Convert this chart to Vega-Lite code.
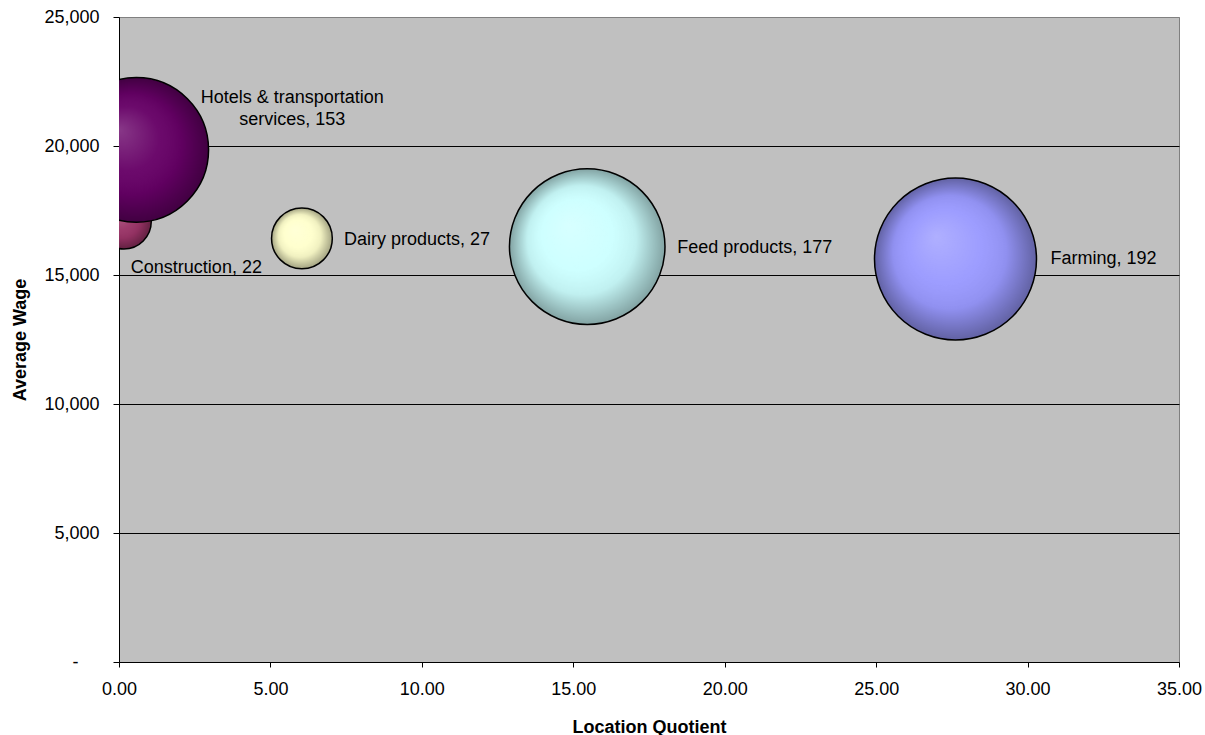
{
  "$schema": "https://vega.github.io/schema/vega-lite/v6.json",
  "width": 1060,
  "height": 645,
  "autosize": {"type": "none"},
  "padding": {"left": 119, "top": 17, "right": 26, "bottom": 73},
  "background": "white",
  "config": {
    "font": "Liberation Sans",
    "view": {"fill": "#C0C0C0", "stroke": "#808080", "strokeWidth": 1}
  },
  "data": {
    "values": [
      {"industry": "Construction", "quotient": 0.16, "wage": 17070, "value": 22},
      {"industry": "Hotels & transportation services", "quotient": 0.57, "wage": 19850, "value": 153},
      {"industry": "Dairy products", "quotient": 6.04, "wage": 16420, "value": 27},
      {"industry": "Feed products", "quotient": 15.46, "wage": 16100, "value": 177},
      {"industry": "Farming", "quotient": 27.62, "wage": 15620, "value": 192}
    ]
  },
  "transform": [
    {"calculate": "replace(datum.industry, 'transportation ', 'transportation\\n') + ', ' + datum.value", "as": "label"}
  ],
  "encoding": {
    "x": {
      "field": "quotient",
      "type": "quantitative",
      "title": "Location Quotient",
      "scale": {"domain": [0, 35], "nice": false},
      "axis": {
        "values": [0, 5, 10, 15, 20, 25, 30, 35],
        "format": ".2f",
        "grid": false,
        "labelFlush": false,
        "domainColor": "black",
        "tickColor": "black",
        "tickSize": 5,
        "labelPadding": 13,
        "labelFontSize": 18,
        "labelColor": "black",
        "titleFontSize": 18,
        "titleFontWeight": "bold",
        "titleColor": "black",
        "titlePadding": 20
      }
    },
    "y": {
      "field": "wage",
      "type": "quantitative",
      "title": "Average Wage",
      "scale": {"domain": [0, 25000], "nice": false},
      "axis": {
        "values": [0, 5000, 10000, 15000, 20000, 25000],
        "labelExpr": "datum.value === 0 ? '-' : format(datum.value, ',')",
        "grid": true,
        "gridColor": {"condition": {"test": "datum.value === 25000 || datum.value === 0", "value": "#808080"}, "value": "black"},
        "gridWidth": 1,
        "labelFlush": false,
        "domainColor": "black",
        "tickColor": "black",
        "tickSize": 6,
        "labelPadding": {"condition": {"test": "datum.value === 0", "value": 35}, "value": 14},
        "labelFontSize": 18,
        "labelColor": "black",
        "titleFontSize": 18,
        "titleFontWeight": "bold",
        "titleColor": "black",
        "titlePadding": 14
      }
    }
  },
  "layer": [
    {
      "transform": [{"filter": "datum.industry === 'Construction'"}],
      "mark": {"type": "circle", "clip": true, "opacity": 1, "strokeWidth": 0},
      "encoding": {
        "color": {
          "field": "industry",
          "type": "nominal",
          "scale": {
            "domain": ["Construction", "Hotels & transportation services", "Dairy products", "Feed products", "Farming"],
            "range": ["#993366", "#660066", "#FFFFCC", "#CCFFFF", "#9999FF"]
          },
          "legend": null
        },
        "size": {"field": "value", "type": "quantitative", "scale": {"domain": [0, 192], "range": [0, 26244]}, "legend": null}
      }
    },
    {
      "transform": [{"filter": "datum.industry === 'Construction'"}],
      "mark": {
        "type": "circle",
        "clip": true,
        "opacity": 1,
        "stroke": "black",
        "strokeWidth": 1.5,
        "fill": {
          "gradient": "radial",
          "x1": 0.38, "y1": 0.36, "r1": 0,
          "x2": 0.5, "y2": 0.5, "r2": 0.5,
          "stops": [
            {"offset": 0, "color": "rgba(255,255,255,0.22)"},
            {"offset": 0.45, "color": "rgba(255,255,255,0.04)"},
            {"offset": 0.7, "color": "rgba(0,0,0,0.06)"},
            {"offset": 1, "color": "rgba(0,0,0,0.36)"}
          ]
        }
      },
      "encoding": {
        "size": {"field": "value", "type": "quantitative", "scale": {"domain": [0, 192], "range": [0, 26244]}, "legend": null}
      }
    },
    {
      "transform": [{"filter": "datum.industry !== 'Construction'"}],
      "mark": {"type": "circle", "clip": true, "opacity": 1, "strokeWidth": 0},
      "encoding": {
        "color": {"field": "industry", "type": "nominal", "legend": null},
        "size": {"field": "value", "type": "quantitative", "legend": null}
      }
    },
    {
      "transform": [{"filter": "datum.industry !== 'Construction'"}],
      "mark": {
        "type": "circle",
        "clip": true,
        "opacity": 1,
        "stroke": "black",
        "strokeWidth": 1.5,
        "fill": {
          "gradient": "radial",
          "x1": 0.38, "y1": 0.36, "r1": 0,
          "x2": 0.5, "y2": 0.5, "r2": 0.5,
          "stops": [
            {"offset": 0, "color": "rgba(255,255,255,0.22)"},
            {"offset": 0.45, "color": "rgba(255,255,255,0.04)"},
            {"offset": 0.7, "color": "rgba(0,0,0,0.06)"},
            {"offset": 1, "color": "rgba(0,0,0,0.36)"}
          ]
        }
      },
      "encoding": {
        "size": {"field": "value", "type": "quantitative", "legend": null}
      }
    },
    {
      "transform": [{"filter": "datum.industry === 'Construction'"}],
      "mark": {"type": "text", "align": "left", "baseline": "alphabetic", "fontSize": 18, "color": "black", "dx": 7, "dy": 51},
      "encoding": {"text": {"field": "label"}}
    },
    {
      "transform": [{"filter": "datum.industry === 'Hotels & transportation services'"}],
      "mark": {"type": "text", "align": "center", "baseline": "alphabetic", "fontSize": 18, "color": "black", "lineBreak": "\n", "lineHeight": 22, "dx": 156, "dy": -47},
      "encoding": {"text": {"field": "label"}}
    },
    {
      "transform": [{"filter": "datum.industry === 'Dairy products'"}],
      "mark": {"type": "text", "align": "left", "baseline": "alphabetic", "fontSize": 18, "color": "black", "dx": 42, "dy": 7},
      "encoding": {"text": {"field": "label"}}
    },
    {
      "transform": [{"filter": "datum.industry === 'Feed products'"}],
      "mark": {"type": "text", "align": "left", "baseline": "alphabetic", "fontSize": 18, "color": "black", "dx": 90, "dy": 6},
      "encoding": {"text": {"field": "label"}}
    },
    {
      "transform": [{"filter": "datum.industry === 'Farming'"}],
      "mark": {"type": "text", "align": "left", "baseline": "alphabetic", "fontSize": 18, "color": "black", "dx": 95, "dy": 5},
      "encoding": {"text": {"field": "label"}}
    }
  ]
}
